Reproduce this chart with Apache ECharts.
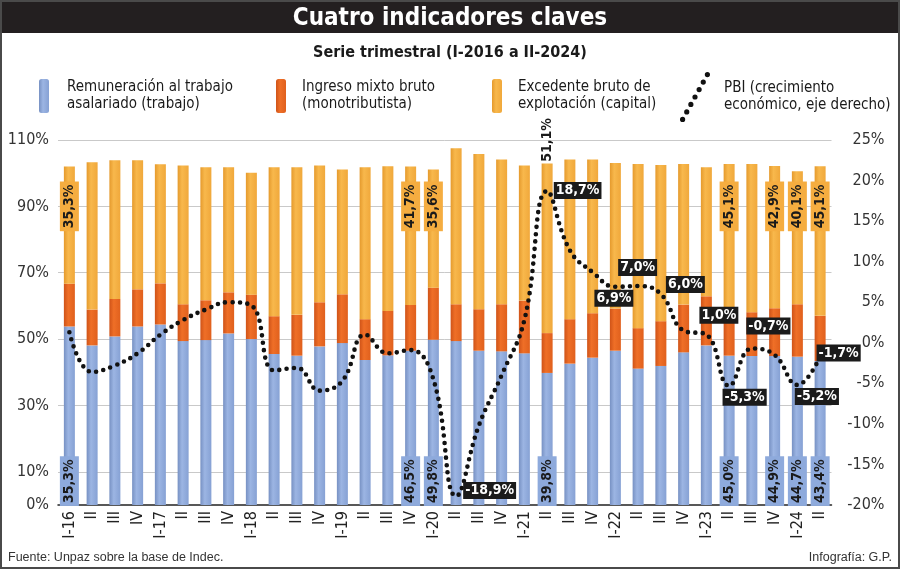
<!DOCTYPE html>
<html>
<head>
<meta charset="utf-8">
<script src="https://cdn.jsdelivr.net/npm/echarts@6/dist/echarts.min.js"></script>
<style>
html,body{margin:0;padding:0;background:#fff;}
#chart{width:900px;height:569px;}
</style>
</head>
<body>
<div id="chart"></div>
<script>
// ---------- DATA ----------
const categories = ['I-16','II','III','IV','I-17','II','III','IV','I-18','II','III','IV','I-19','II','III','IV','I-20','II','III','IV','I-21','II','III','IV','I-22','II','III','IV','I-23','II','III','IV','I-24','II'];
const remuneracion = [53.8,48.1,50.8,53.8,54.4,49.4,49.7,51.7,50.0,45.5,45.0,47.8,48.8,43.7,45.1,46.5,49.8,49.4,46.5,46.3,45.7,39.8,42.6,44.4,46.5,41.1,41.9,46.0,48.1,45.0,44.9,44.9,44.7,43.4];
const ingresoMixto = [12.9,10.8,11.3,11.2,12.4,11.1,12.0,12.4,13.4,11.4,12.3,13.3,14.7,12.3,13.4,13.8,15.7,11.1,12.5,14.2,15.9,12.0,13.4,13.4,12.7,12.2,13.5,14.4,14.8,12.7,13.2,14.4,15.8,13.6];
const excedente = [35.3,44.4,41.8,38.9,35.9,41.8,40.1,37.7,36.7,44.9,44.5,41.2,37.6,45.8,43.6,41.7,35.6,47.0,46.8,43.6,40.7,51.1,48.1,46.3,43.9,49.5,47.1,42.4,38.9,45.1,44.7,42.9,40.1,45.1];
const pbi = [1.3,-3.6,-2.8,-1.3,1.0,2.8,4.1,5.0,4.6,-3.4,-3.1,-5.9,-4.7,1.0,-1.3,-0.9,-4.5,-18.9,-10.2,-4.0,2.8,18.7,11.4,8.7,6.9,7.0,6.0,1.5,1.0,-5.3,-0.7,-1.5,-5.2,-1.7];
// value labels printed on the chart (index -> text)
const blueLabels = {0:'35,3%',15:'46,5%',16:'49,8%',21:'39,8%',29:'45,0%',31:'44,9%',32:'44,7%',33:'43,4%'};
const orangeLabels = {0:'35,3%',15:'41,7%',16:'35,6%',21:'51,1%',29:'45,1%',31:'42,9%',32:'40,1%',33:'45,1%'};
const pbiLabels = {17:'-18,9%',21:'18,7%',24:'6,9%',25:'7,0%',26:'6,0%',28:'1,0%',29:'-5,3%',30:'-0,7%',32:'-5,2%',33:'-1,7%'};
const leftTicks = [0,10,30,50,70,90,110];
const rightMin = -20, rightMax = 25, rightStep = 5;

// ---------- STYLE ----------
const FC = "'DejaVu Sans Condensed','Liberation Sans Narrow','Roboto Condensed','Arial Narrow',sans-serif";
const FR = "'Liberation Sans',Arial,sans-serif";
const BLUE_LEVEL = 7.2, ORANGE_LEVEL = 90, TOP_LEVEL = 110;
const unboxedOrange = {21:true};
// offsets of black label boxes (centre) from the point, px
const pbiOffsets = {17:[34,-5],21:[31,0],24:[-1,12],25:[0,-18],26:[25,-9],28:[13,-19],29:[16,12],30:[17,-22],32:[20,12],33:[19,-3]};

function cyl(dark, light, mid){
  return new echarts.graphic.LinearGradient(0,0,1,0,[
    {offset:0,color:dark},{offset:0.4,color:light},{offset:1,color:mid}]);
}
const cBlue = cyl('#7791c3','#9cb5e3','#86a1d4');
const cRed = cyl('#cf5318','#ef6f27','#e0601d');
const cOrange = cyl('#e59a2d','#f8b84c','#f0a83b');

const splitColors = [];
for (let v = 0; v <= 110; v += 10) splitColors.push(leftTicks.includes(v) && v !== 0 ? '#c9c9c9' : 'rgba(0,0,0,0)');

function dotsPath(){
  let p = '';
  const n = 7, r = 2.6;
  for (let k = 0; k < n; k++){
    const cx = 27.4 - k*(24.8/(n-1)), cy = 2.6 + k*(44.8/(n-1));
    p += `M${cx-r} ${cy}A${r} ${r} 0 1 0 ${cx+r} ${cy}A${r} ${r} 0 1 0 ${cx-r} ${cy}Z`;
  }
  return 'path://' + p;
}

const boxLabelBase = {fontFamily:FC, fontWeight:'bold', fontSize:14, color:'#1a1a1a', padding:[3,3,2,3], opacity:1};

const blueLabelData = Object.keys(blueLabels).map(k => ({value:[+k, BLUE_LEVEL], label:{formatter:blueLabels[k]}}));
const orangeLabelData = Object.keys(orangeLabels).map(k => {
  const i = +k;
  if (unboxedOrange[i]) return {value:[i, TOP_LEVEL], label:{formatter:orangeLabels[k], backgroundColor:'transparent'}};
  return {value:[i, ORANGE_LEVEL], label:{formatter:orangeLabels[k]}};
});
const pbiLabelData = Object.keys(pbiLabels).map(k => {
  const i = +k, o = pbiOffsets[i];
  return {value:[i, pbi[i]], label:{formatter:pbiLabels[k], position:[o[0], o[1]]}};
});

const legendNames = {
  'Remuneración':'Remuneración al trabajo\nasalariado (trabajo)',
  'Ingreso mixto':'Ingreso mixto bruto\n(monotributista)',
  'Excedente':'Excedente bruto de\nexplotación (capital)',
  'PBI':'PBI (crecimiento\neconómico, eje derecho)'
};
function mkLegend(name, left, top, w, h, icon, pad){
  return {
    left:left, top:top, orient:'horizontal', itemWidth:w, itemHeight:h,
    data:[{name:name, icon:icon}], selectedMode:false,
    formatter: n => legendNames[n],
    textStyle:{fontFamily:FC, fontSize:15, color:'#1a1a1a', lineHeight:17, padding:[0,0,0,pad]}
  };
}
const hiddenItem = {color:'rgba(0,0,0,0)', opacity:1};

const chart = echarts.init(document.getElementById('chart'), null, {renderer:'canvas'});
chart.setOption({
  animation:false,
  backgroundColor:'#fff',
  title:[
    {text:'Cuatro indicadores claves', left:'center', top:2, textStyle:{color:'#fff', fontFamily:FC, fontWeight:'bold', fontSize:24}},
    {text:'Serie trimestral (I-2016 a II-2024)', left:'center', top:40, textStyle:{color:'#1a1a1a', fontFamily:FC, fontWeight:'bold', fontSize:16}}
  ],
  legend:[
    mkLegend('Remuneración', 34, 74, 10, 34, 'roundRect', 13),
    mkLegend('Ingreso mixto', 271, 74, 10, 34, 'roundRect', 11),
    mkLegend('Excedente', 487, 74, 10, 34, 'roundRect', 11),
    mkLegend('PBI', 675, 67, 30, 50, dotsPath(), 9)
  ],
  graphic:[
    {type:'rect', z:-10, shape:{x:0,y:0,width:900,height:33}, style:{fill:'#231f20'}},
    {type:'rect', z:-10, shape:{x:1,y:1,width:898,height:567}, style:{fill:'none', stroke:'#4a4a4a', lineWidth:2}},
    {type:'text', left:8, top:551, style:{text:'Fuente: Unpaz sobre la base de Indec.', font:"12.5px "+FR, fill:'#333'}},
    {type:'text', right:8, top:551, style:{text:'Infografía: G.P.', font:"12.5px "+FR, fill:'#333'}}
  ],
  grid:{left:58, right:68.5, top:140, bottom:64, containLabel:false},
  xAxis:{
    type:'category', data:categories, boundaryGap:true,
    axisLine:{show:true, lineStyle:{color:'#222', width:1.5}},
    axisTick:{show:false},
    axisLabel:{rotate:90, interval:0, margin:6, fontFamily:FC, fontSize:16, color:'#222'}
  },
  yAxis:[
    {type:'value', min:0, max:110, interval:10, position:'left',
     axisLine:{show:false}, axisTick:{show:false},
     axisLabel:{margin:9, fontFamily:FC, fontSize:16, color:'#333', formatter:v => leftTicks.includes(v) ? v+'%' : ''},
     splitLine:{show:true, lineStyle:{color:splitColors, width:1}}},
    {type:'value', min:rightMin, max:rightMax, interval:rightStep, position:'right',
     axisLine:{show:false}, axisTick:{show:false}, splitLine:{show:false},
     axisLabel:{margin:53, align:'right', fontFamily:FC, fontSize:16, color:'#333', formatter:v => v+'%'}}
  ],
  series:[
    {name:'Remuneración', type:'bar', stack:'total', barWidth:11, data:remuneracion, itemStyle:{color:cBlue}, z:2},
    {name:'Ingreso mixto', type:'bar', stack:'total', barWidth:11, data:ingresoMixto, itemStyle:{color:cRed}, z:2},
    {name:'Excedente', type:'bar', stack:'total', barWidth:11, data:excedente, itemStyle:{color:cOrange}, z:2},
    {name:'PBI', type:'line', yAxisIndex:1, data:pbi, smooth:0.45, showSymbol:false, symbol:'none',
     itemStyle:{color:'#111'},
     lineStyle:{color:'#111', width:4.6, type:[0,7.4], cap:'round'}, z:5},
    {name:'lbl-blue', type:'scatter', yAxisIndex:0, data:blueLabelData, symbolSize:1, itemStyle:hiddenItem,
     clip:false, silent:true, z:6,
     label:Object.assign({show:true, position:'inside', rotate:90, backgroundColor:'#8eaadc'}, boxLabelBase)},
    {name:'lbl-orange', type:'scatter', yAxisIndex:0, data:orangeLabelData, symbolSize:1, itemStyle:hiddenItem,
     clip:false, silent:true, z:6,
     label:Object.assign({show:true, position:'inside', rotate:90, backgroundColor:'#f5ad40'}, boxLabelBase)},
    {name:'lbl-pbi', type:'scatter', yAxisIndex:1, data:pbiLabelData, symbolSize:1, itemStyle:hiddenItem,
     clip:false, silent:true, z:7,
     label:{show:true, opacity:1, align:'center', verticalAlign:'middle', backgroundColor:'#1b1b1b', color:'#fff',
            fontFamily:FC, fontWeight:'bold', fontSize:14, padding:[2,2,1,2]}}
  ]
});
</script>
</body>
</html>
